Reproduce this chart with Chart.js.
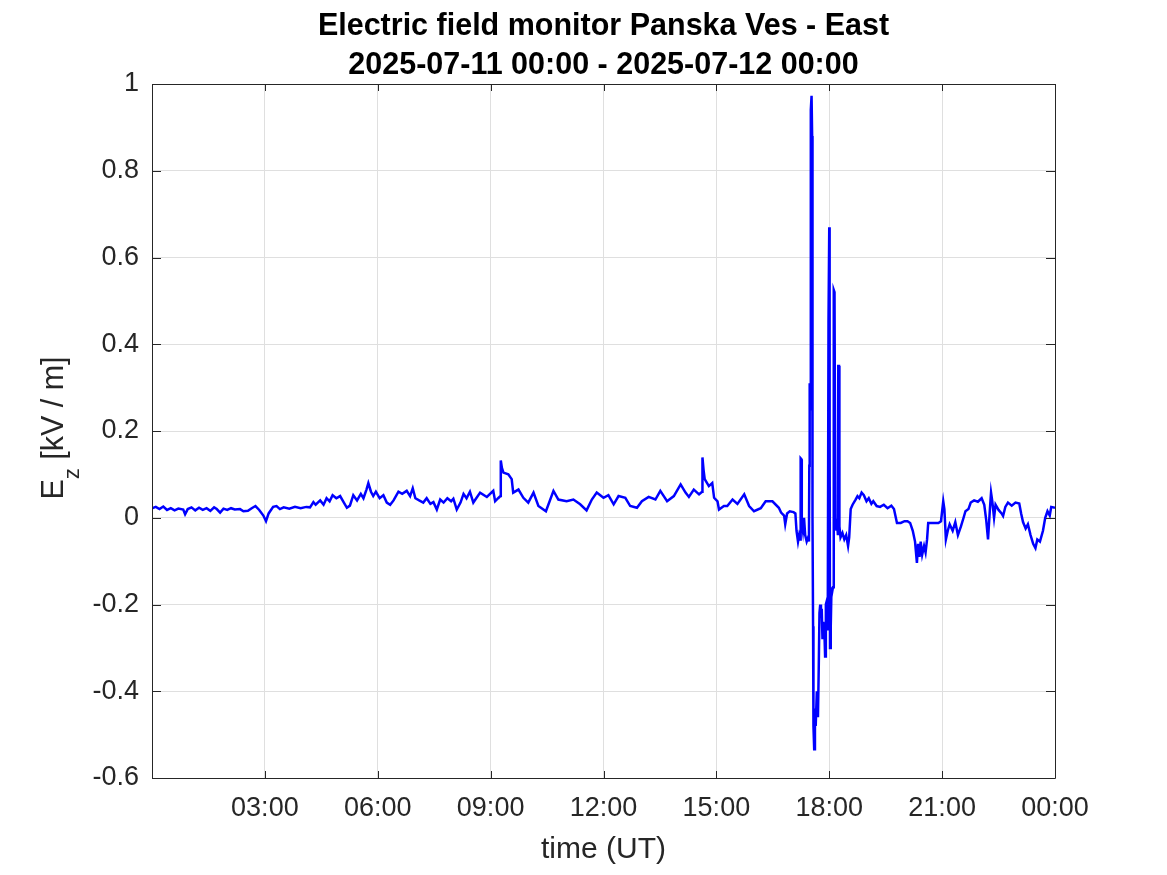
<!DOCTYPE html>
<html>
<head>
<meta charset="utf-8">
<script src="https://cdn.jsdelivr.net/npm/chart.js@4.4.1/dist/chart.umd.min.js"></script>
<style>
html,body{margin:0;padding:0;background:#fff;}
canvas{display:block;}
</style>
</head>
<body>
<canvas id="c" width="1167" height="875" style="width:1167px;height:875px"></canvas>
<script>
// ---- data (hours UT since 2025-07-11 00:00, Ez in kV/m) ----
const timeHours = [
0.00,0.10,0.20,0.30,0.40,0.50,0.60,0.70,0.83,0.88,0.95,1.05,1.15,1.25,1.35,1.45,1.55,1.65,1.72,1.81,
1.90,2.00,2.10,2.20,2.34,2.43,2.55,2.65,2.75,2.85,2.96,3.03,3.10,3.22,3.31,3.40,3.50,3.65,3.80,3.95,
4.10,4.20,4.29,4.35,4.47,4.56,4.64,4.72,4.80,4.90,5.00,5.10,5.18,5.26,5.35,5.45,5.55,5.62,5.70,5.75,
5.82,5.88,5.95,6.05,6.15,6.24,6.33,6.42,6.55,6.65,6.77,6.86,6.93,7.00,7.10,7.21,7.30,7.40,7.48,7.57,
7.66,7.75,7.85,7.95,8.01,8.10,8.20,8.28,8.36,8.45,8.54,8.72,8.90,9.07,9.12,9.20,9.26,9.27,9.30,9.34,
9.47,9.56,9.60,9.74,9.87,10.00,10.14,10.27,10.47,10.67,10.80,11.02,11.20,11.38,11.55,11.69,11.82,12.00,12.13,12.27,
12.40,12.58,12.71,12.89,13.02,13.20,13.38,13.51,13.69,13.87,14.05,14.18,14.27,14.40,14.54,14.62,14.63,14.66,14.69,14.80,
14.89,14.94,15.03,15.07,15.20,15.29,15.43,15.56,15.74,15.87,16.00,16.18,16.31,16.49,16.66,16.72,16.80,16.83,16.88,16.95,
17.05,17.10,17.13,17.17,17.20,17.23,17.24,17.26,17.27,17.30,17.33,17.36,17.40,17.44,17.46,17.47,17.48,17.50,17.51,17.53,
17.545,17.555,17.57,17.58,17.60,17.62,17.64,17.67,17.70,17.72,17.74,17.76,17.78,17.80,17.82,17.84,17.87,17.89,17.91,17.94,
17.96,17.98,18.00,18.01,18.02,18.04,18.06,18.08,18.10,18.12,18.14,18.16,18.19,18.21,18.23,18.24,18.26,18.27,18.30,18.35,
18.40,18.45,18.50,18.53,18.57,18.62,18.70,18.75,18.80,18.86,18.92,18.99,19.05,19.12,19.17,19.26,19.35,19.45,19.55,19.65,
19.72,19.80,19.90,20.00,20.08,20.15,20.22,20.28,20.33,20.36,20.40,20.43,20.47,20.52,20.56,20.60,20.63,20.75,20.90,20.97,
21.03,21.06,21.10,21.15,21.20,21.28,21.35,21.42,21.50,21.57,21.62,21.70,21.76,21.85,21.95,22.05,22.12,22.17,22.22,22.27,
22.30,22.33,22.38,22.42,22.50,22.58,22.62,22.68,22.75,22.85,22.95,23.05,23.10,23.15,23.22,23.28,23.35,23.42,23.48,23.53,
23.60,23.68,23.74,23.80,23.86,23.90,24.00
];
const ezValues = [
0.022,0.025,0.020,0.026,0.018,0.022,0.017,0.021,0.019,0.008,0.020,0.024,0.017,0.023,0.018,0.022,0.016,0.024,0.020,0.012,
0.021,0.018,0.022,0.019,0.020,0.015,0.016,0.022,0.027,0.018,0.005,-0.008,0.010,0.025,0.027,0.020,0.024,0.021,0.025,0.022,
0.025,0.024,0.036,0.030,0.040,0.030,0.045,0.038,0.052,0.045,0.050,0.035,0.023,0.028,0.052,0.040,0.055,0.045,0.065,0.080,
0.060,0.050,0.060,0.045,0.052,0.035,0.030,0.040,0.060,0.055,0.062,0.050,0.068,0.045,0.040,0.035,0.045,0.032,0.036,0.019,
0.042,0.035,0.045,0.038,0.044,0.019,0.035,0.055,0.045,0.060,0.035,0.058,0.048,0.062,0.038,0.045,0.050,0.132,0.115,0.104,
0.100,0.089,0.058,0.065,0.046,0.035,0.058,0.027,0.015,0.062,0.042,0.038,0.042,0.031,0.017,0.042,0.058,0.046,0.052,0.031,
0.050,0.046,0.027,0.023,0.038,0.048,0.042,0.062,0.038,0.050,0.077,0.058,0.048,0.065,0.054,0.060,0.139,0.110,0.089,0.073,
0.080,0.046,0.038,0.019,0.027,0.027,0.042,0.032,0.054,0.027,0.015,0.022,0.038,0.038,0.023,0.012,0.005,-0.015,0.010,0.015,
0.013,0.010,-0.030,-0.055,-0.040,-0.050,0.137,0.135,-0.010,-0.030,0.000,-0.040,-0.055,-0.045,-0.055,0.120,0.310,0.250,0.940,0.973,
0.880,0.000,-0.250,-0.480,-0.534,-0.440,-0.480,-0.400,-0.460,-0.350,-0.220,-0.200,-0.230,-0.210,-0.280,-0.240,-0.260,-0.320,-0.200,-0.190,
-0.260,0.450,0.670,0.200,-0.300,-0.250,-0.160,-0.170,-0.160,0.525,0.520,0.000,-0.030,-0.010,-0.040,0.350,0.350,-0.020,-0.045,-0.035,
-0.050,-0.040,-0.065,-0.045,0.020,0.030,0.042,0.050,0.045,0.058,0.052,0.038,0.045,0.032,0.038,0.027,0.025,0.030,0.022,0.028,
0.020,-0.012,-0.012,-0.008,-0.008,-0.012,-0.030,-0.055,-0.104,-0.060,-0.090,-0.055,-0.085,-0.065,-0.080,-0.050,-0.012,-0.012,-0.012,-0.008,
0.038,0.020,-0.050,-0.030,-0.015,-0.030,-0.010,-0.040,-0.020,0.000,0.015,0.020,0.035,0.040,0.037,0.045,0.030,-0.004,-0.050,0.020,
0.058,0.040,0.000,0.030,0.018,0.010,0.004,0.025,0.035,0.028,0.035,0.033,0.010,-0.010,-0.025,-0.015,-0.040,-0.060,-0.070,-0.050,
-0.055,-0.030,0.000,0.015,0.005,0.025,0.023
];
const xTickHours = [3,6,9,12,15,18,21,24];
const xTickLabels = ["03:00","06:00","09:00","12:00","15:00","18:00","21:00","00:00"];
const yTickValues = [-0.6,-0.4,-0.2,0,0.2,0.4,0.6,0.8,1];
const yTickLabels = ["-0.6","-0.4","-0.2","0","0.2","0.4","0.6","0.8","1"];
const titleLines = ["Electric field monitor Panska Ves - East","2025-07-11 00:00 - 2025-07-12 00:00"];
const xAxisTitle = "time (UT)";

const FONT = "'Liberation Sans', Arial, Helvetica, sans-serif";
const AXIS_COLOR = "#262626";

const decor = {
  id: 'decor',
  afterDraw(chart) {
    const ctx = chart.ctx;
    const a = chart.chartArea;
    const xs = chart.scales.x, ys = chart.scales.y;
    ctx.save();
    // box
    ctx.strokeStyle = AXIS_COLOR;
    ctx.lineWidth = 1;
    ctx.beginPath();
    ctx.rect(a.left + 0.5, a.top + 0.5, a.right - a.left, a.bottom - a.top);
    ctx.stroke();
    // inner ticks
    ctx.beginPath();
    xTickHours.forEach(h => {
      const px = Math.round(xs.getPixelForValue(h)) + 0.5;
      ctx.moveTo(px, a.bottom); ctx.lineTo(px, a.bottom - 7);
      ctx.moveTo(px, a.top); ctx.lineTo(px, a.top + 7);
    });
    yTickValues.forEach(v => {
      const py = Math.round(ys.getPixelForValue(v)) + 0.5;
      ctx.moveTo(a.left, py); ctx.lineTo(a.left + 9, py);
      ctx.moveTo(a.right, py); ctx.lineTo(a.right - 9, py);
    });
    ctx.stroke();
    // title
    const cx = (a.left + a.right) / 2;
    ctx.fillStyle = "#000";
    ctx.textAlign = "center";
    ctx.textBaseline = "alphabetic";
    ctx.font = "bold 30.5px " + FONT;
    ctx.fillText(titleLines[0], cx, 35);
    ctx.fillText(titleLines[1], cx, 74);
    // x axis title
    ctx.fillStyle = AXIS_COLOR;
    ctx.font = "30px " + FONT;
    ctx.fillText(xAxisTitle, cx, 858);
    // y axis title with subscript
    ctx.translate(63, 428);
    ctx.rotate(-Math.PI / 2);
    const fMain = "30.5px " + FONT, fSub = "22px " + FONT;
    ctx.font = fMain; const wE = ctx.measureText("E").width;
    const rest = " [kV / m]"; const wR = ctx.measureText(rest).width;
    ctx.font = fSub; const wz = ctx.measureText("z").width;
    const total = wE + wz + wR;
    let x0 = -total / 2;
    ctx.textAlign = "left";
    ctx.font = fMain; ctx.fillText("E", x0, 0);
    ctx.font = fSub; ctx.fillText("z", x0 + wE, 16);
    ctx.font = fMain; ctx.fillText(rest, x0 + wE + wz, 0);
    ctx.restore();
  }
};

const points = timeHours.map((h, i) => ({ x: h, y: ezValues[i] }));

new Chart(document.getElementById('c'), {
  type: 'line',
  data: {
    datasets: [{
      data: points,
      borderColor: '#0000ff',
      borderWidth: 2.5,
      pointRadius: 0,
      tension: 0,
      fill: false
    }]
  },
  options: {
    responsive: false,
    animation: false,
    devicePixelRatio: 1,
    layout: { padding: { top: 84, right: 112, left: 0, bottom: 0 } },
    plugins: { legend: { display: false }, title: { display: false }, tooltip: { enabled: false } },
    scales: {
      x: {
        type: 'linear',
        min: 0, max: 24,
        afterFit(s) { s.height = 875 - 84 - 694; },
        afterBuildTicks(s) { s.ticks = xTickHours.map(v => ({ value: v })); },
        ticks: {
          autoSkip: false, maxRotation: 0,
          padding: 14,
          color: AXIS_COLOR,
          font: { family: FONT, size: 27 },
          callback(v) { const i = xTickHours.indexOf(v); return i >= 0 ? xTickLabels[i] : ''; }
        },
        grid: { color: '#dfdfdf', lineWidth: 1, drawTicks: false },
        border: { display: false }
      },
      y: {
        min: -0.6, max: 1,
        afterFit(s) { s.width = 152; },
        afterBuildTicks(s) { s.ticks = yTickValues.map(v => ({ value: v })); },
        ticks: {
          autoSkip: false,
          padding: 13,
          color: AXIS_COLOR,
          font: { family: FONT, size: 27 },
          callback(v) { const i = yTickValues.findIndex(t => Math.abs(t - v) < 1e-9); return i >= 0 ? yTickLabels[i] : ''; }
        },
        grid: { color: '#dfdfdf', lineWidth: 1, drawTicks: false },
        border: { display: false }
      }
    }
  },
  plugins: [decor]
});
</script>
</body>
</html>
